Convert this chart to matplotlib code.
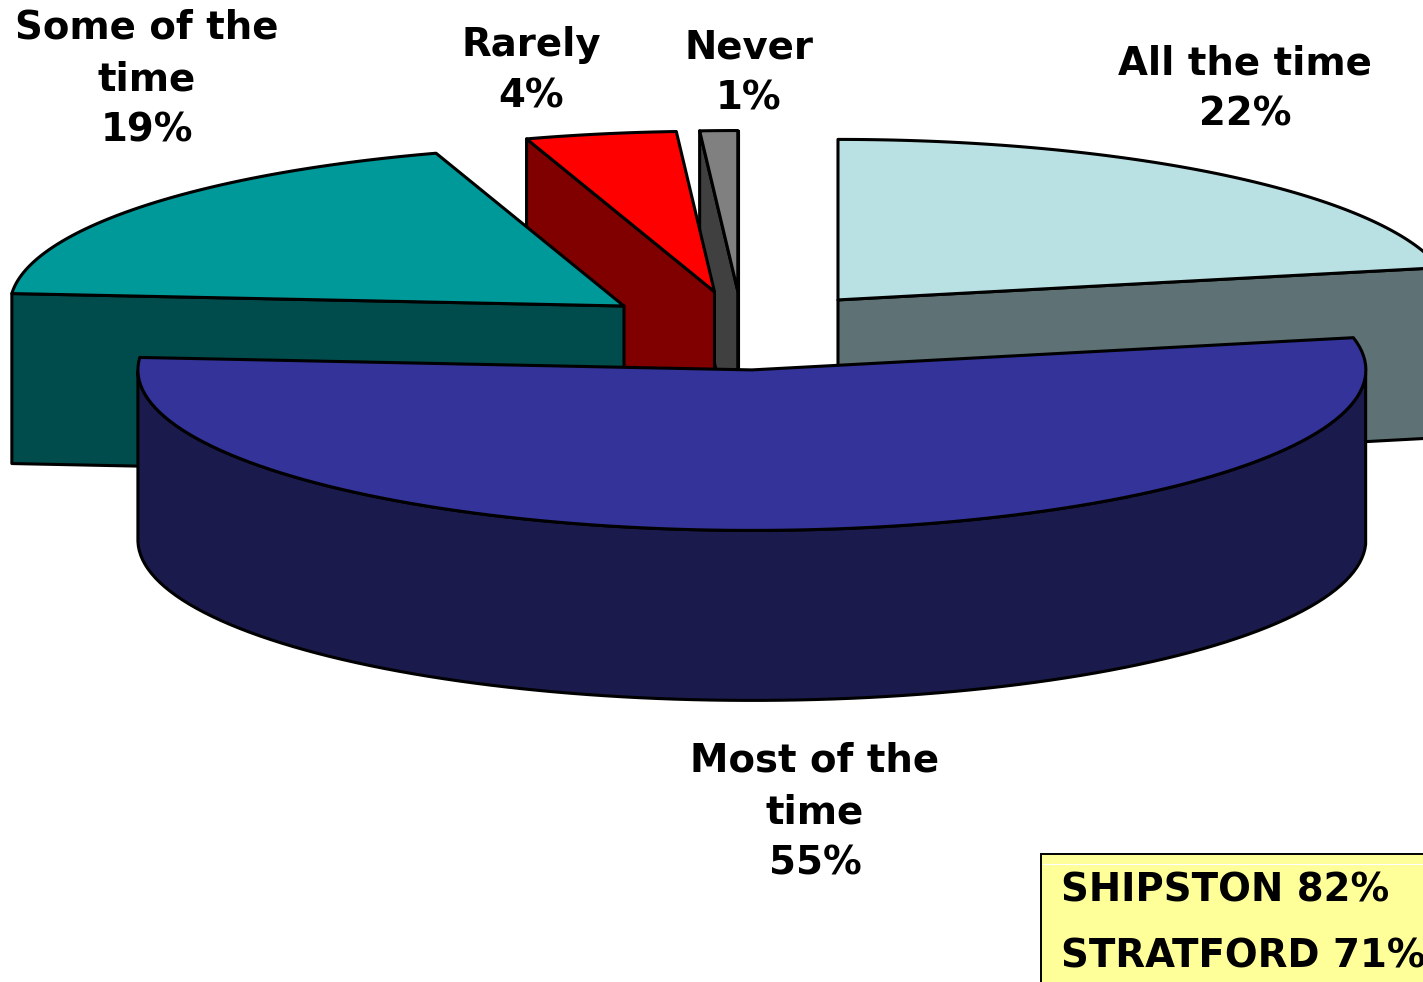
import numpy as np
import matplotlib
matplotlib.use("Agg")
import matplotlib.pyplot as plt
from matplotlib.patches import Polygon, Rectangle

# clockwise from 12 o'clock
names = ["All the time", "Most of the\ntime", "Some of the\ntime", "Rarely", "Never"]
values = [22, 55, 19, 4, 1]
top_colors = ["#B9E0E3", "#333399", "#009999", "#FF0000", "#808080"]
side_colors = ["#5E7174", "#1A1A4C", "#004C4C", "#800000", "#404040"]
label_pos = [(1245, 89), (815, 812), (147, 79), (531, 71), (749, 73)]
# back to front
draw_order = [0, 4, 3, 2, 1]

box_labels = ["SHIPSTON 82%", "STRATFORD 71%"]

cx, cy = 742.5, 330.5
rx, ry = 614, 160.5
explode = 0.246
depth = 170


def pt(theta, r=1.0):
    return np.array([r * rx * np.sin(theta), -r * ry * np.cos(theta)])


def cut_visible(apex, rim, mid):
    # a cut face shows if the wedge top lies on the far side of the edge from the extrusion
    edge = rim - apex
    e_mid = (apex + rim) / 2
    below = e_mid + [0, depth]
    s1 = edge[0] * (mid - apex)[1] - edge[1] * (mid - apex)[0]
    s2 = edge[0] * (below - apex)[1] - edge[1] * (below - apex)[0]
    return s1 * s2 < 0


fig = plt.figure(figsize=(14.23, 9.82), dpi=100)
ax = fig.add_axes([0, 0, 1, 1])
ax.set_xlim(0, 1423)
ax.set_ylim(982, 0)
ax.axis("off")

fracs = np.array(values) / sum(values) * 2 * np.pi
ends = np.cumsum(fracs)
starts = ends - fracs
lw = 2.2

for i in draw_order:
    t0, t1 = starts[i], ends[i]
    tm = (t0 + t1) / 2
    apex = np.array([cx, cy]) + pt(tm, explode)
    ts = np.linspace(t0, t1, 120)
    rim = np.array([apex + pt(t) for t in ts])
    down = np.array([0, depth])

    # outer wall, only the front half of the ellipse is seen
    front = ts[(ts >= np.pi / 2) & (ts <= 3 * np.pi / 2)]
    if len(front) > 1:
        arc = np.array([apex + pt(t) for t in front])
        ax.add_patch(Polygon(np.vstack([arc, (arc + down)[::-1]]), closed=True,
                             fc=side_colors[i], ec="black", lw=lw, joinstyle="round"))

    # cut walls
    mid = apex + pt(tm, 0.5)
    for r in (rim[0], rim[-1]):
        if cut_visible(apex, r, mid):
            ax.add_patch(Polygon([apex, r, r + down, apex + down], closed=True,
                                 fc=side_colors[i], ec="black", lw=lw, joinstyle="round"))

    ax.add_patch(Polygon(np.vstack([apex, rim]), closed=True,
                         fc=top_colors[i], ec="black", lw=lw, joinstyle="round"))

for name, val, (x, y) in zip(names, values, label_pos):
    ax.text(x, y, f"{name}\n{val}%", ha="center", va="center", fontsize=27.8,
            fontweight="bold", color="black", linespacing=1.45, family="DejaVu Sans")

# yellow note, runs off the edge of the slide
ax.add_patch(Rectangle((1041, 854), 420, 160, fc="#FFFF99", ec="black", lw=1.4))
ax.plot([1043, 1423], [864, 864], color="white", lw=0.8)
ax.text(1061, 890, box_labels[0], ha="left", va="center", fontsize=27.8, fontweight="bold")
ax.text(1061, 957, box_labels[1], ha="left", va="center", fontsize=27.8, fontweight="bold")

fig.savefig("out.png", dpi=100)
